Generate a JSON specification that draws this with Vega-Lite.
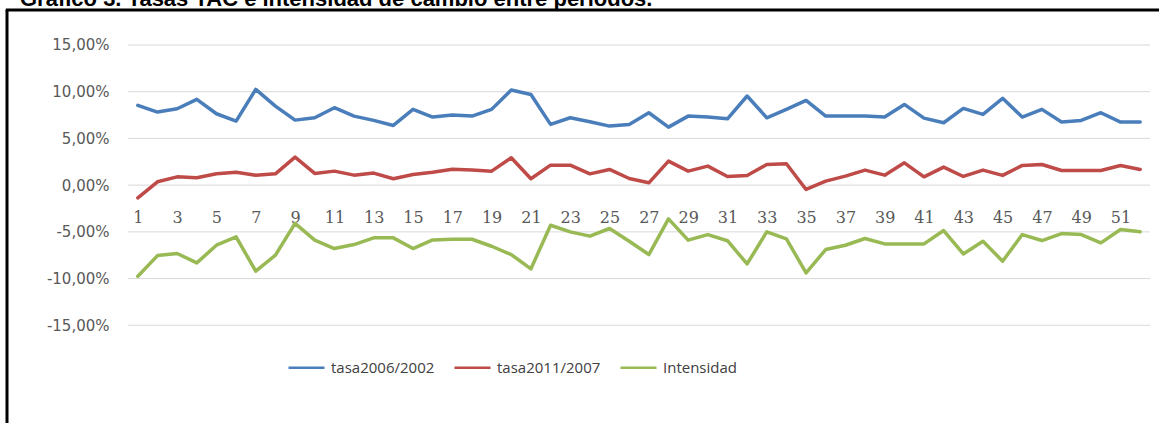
{
  "$schema": "https://vega.github.io/schema/vega-lite/v6.json",
  "autosize": "none",
  "padding": {"left": 7, "top": 10, "right": 0, "bottom": 0},
  "width": 1152,
  "height": 413,
  "background": "#ffffff",
  "title": {
    "text": "Gráfico 3. Tasas TAC e intensidad de cambio entre periodos.",
    "anchor": "start",
    "frame": "group",
    "dx": 13,
    "offset": -19,
    "baseline": "alphabetic",
    "font": "Liberation Sans",
    "fontSize": 22,
    "fontWeight": "bold",
    "color": "#000000"
  },
  "config": {
    "view": {"stroke": null}
  },
  "layer": [
    {
      "data": {"values": [{"g": -15}, {"g": -10}, {"g": -5}, {"g": 0}, {"g": 5}, {"g": 10}, {"g": 15}]},
      "mark": {"type": "rule", "color": "#d9d9d9", "strokeWidth": 1},
      "encoding": {
        "y": {
          "field": "g", "type": "quantitative",
          "scale": {"domain": [-25.458, 18.746], "nice": false, "zero": false},
          "axis": {
            "orient": "left", "offset": -105, "title": null, "domain": false, "ticks": false, "grid": false,
            "values": [-15, -10, -5, 0, 5, 10, 15],
            "labelExpr": "(datum.value < 0 ? '-' : '') + replace(format(abs(datum.value), '.2f'), '.', ',') + '%'",
            "labelFont": "DejaVu Sans", "labelFontSize": 15, "labelColor": "#595959", "labelPadding": 3
          }
        },
        "x": {
          "datum": 0.5, "type": "quantitative",
          "scale": {"domain": [-5.657, 52.957], "nice": false, "zero": false},
          "axis": {
            "orient": "bottom", "offset": -215, "title": null, "domain": false, "ticks": false, "grid": false,
            "values": [1, 3, 5, 7, 9, 11, 13, 15, 17, 19, 21, 23, 25, 27, 29, 31, 33, 35, 37, 39, 41, 43, 45, 47, 49, 51],
            "labelFont": "DejaVu Serif", "labelFontSize": 16, "labelColor": "#595959", "labelPadding": 1, "labelBaseline": "top", "labelFlush": false
          }
        },
        "x2": {"datum": 52.5}
      }
    },
    {
      "data": {"values": [{"b": 1}]},
      "mark": {"type": "rule", "color": "#000000", "strokeWidth": 3},
      "encoding": {
        "x": {"datum": -5.657, "type": "quantitative"},
        "y": {"datum": 18.746, "type": "quantitative"},
        "y2": {"datum": -25.458}
      }
    },
    {
      "data": {"values": [{"b": 1}]},
      "mark": {"type": "rule", "color": "#000000", "strokeWidth": 3},
      "encoding": {
        "y": {"datum": 18.746, "type": "quantitative"},
        "x": {"datum": -5.72, "type": "quantitative"},
        "x2": {"datum": 52.957}
      }
    },
    {
      "data": {"values": [
        {"n": 1, "tasa2006/2002": 8.54, "tasa2011/2007": -1.36, "Intensidad": -9.75},
        {"n": 2, "tasa2006/2002": 7.82, "tasa2011/2007": 0.36, "Intensidad": -7.54},
        {"n": 3, "tasa2006/2002": 8.18, "tasa2011/2007": 0.89, "Intensidad": -7.32},
        {"n": 4, "tasa2006/2002": 9.18, "tasa2011/2007": 0.79, "Intensidad": -8.32},
        {"n": 5, "tasa2006/2002": 7.64, "tasa2011/2007": 1.21, "Intensidad": -6.43},
        {"n": 6, "tasa2006/2002": 6.86, "tasa2011/2007": 1.39, "Intensidad": -5.54},
        {"n": 7, "tasa2006/2002": 10.25, "tasa2011/2007": 1.07, "Intensidad": -9.21},
        {"n": 8, "tasa2006/2002": 8.46, "tasa2011/2007": 1.21, "Intensidad": -7.5},
        {"n": 9, "tasa2006/2002": 6.96, "tasa2011/2007": 3.0, "Intensidad": -4.1},
        {"n": 10, "tasa2006/2002": 7.21, "tasa2011/2007": 1.25, "Intensidad": -5.89},
        {"n": 11, "tasa2006/2002": 8.29, "tasa2011/2007": 1.5, "Intensidad": -6.79},
        {"n": 12, "tasa2006/2002": 7.39, "tasa2011/2007": 1.07, "Intensidad": -6.36},
        {"n": 13, "tasa2006/2002": 6.93, "tasa2011/2007": 1.29, "Intensidad": -5.64},
        {"n": 14, "tasa2006/2002": 6.39, "tasa2011/2007": 0.68, "Intensidad": -5.64},
        {"n": 15, "tasa2006/2002": 8.11, "tasa2011/2007": 1.14, "Intensidad": -6.79},
        {"n": 16, "tasa2006/2002": 7.29, "tasa2011/2007": 1.39, "Intensidad": -5.86},
        {"n": 17, "tasa2006/2002": 7.5, "tasa2011/2007": 1.71, "Intensidad": -5.79},
        {"n": 18, "tasa2006/2002": 7.39, "tasa2011/2007": 1.61, "Intensidad": -5.79},
        {"n": 19, "tasa2006/2002": 8.11, "tasa2011/2007": 1.5, "Intensidad": -6.54},
        {"n": 20, "tasa2006/2002": 10.18, "tasa2011/2007": 2.93, "Intensidad": -7.43},
        {"n": 21, "tasa2006/2002": 9.71, "tasa2011/2007": 0.68, "Intensidad": -8.96},
        {"n": 22, "tasa2006/2002": 6.5, "tasa2011/2007": 2.14, "Intensidad": -4.29},
        {"n": 23, "tasa2006/2002": 7.21, "tasa2011/2007": 2.14, "Intensidad": -5.0},
        {"n": 24, "tasa2006/2002": 6.79, "tasa2011/2007": 1.21, "Intensidad": -5.46},
        {"n": 25, "tasa2006/2002": 6.32, "tasa2011/2007": 1.68, "Intensidad": -4.64},
        {"n": 26, "tasa2006/2002": 6.5, "tasa2011/2007": 0.71, "Intensidad": -6.0},
        {"n": 27, "tasa2006/2002": 7.75, "tasa2011/2007": 0.25, "Intensidad": -7.43},
        {"n": 28, "tasa2006/2002": 6.21, "tasa2011/2007": 2.57, "Intensidad": -3.61},
        {"n": 29, "tasa2006/2002": 7.39, "tasa2011/2007": 1.5, "Intensidad": -5.89},
        {"n": 30, "tasa2006/2002": 7.29, "tasa2011/2007": 2.04, "Intensidad": -5.29},
        {"n": 31, "tasa2006/2002": 7.1, "tasa2011/2007": 0.93, "Intensidad": -5.95},
        {"n": 32, "tasa2006/2002": 9.54, "tasa2011/2007": 1.04, "Intensidad": -8.43},
        {"n": 33, "tasa2006/2002": 7.21, "tasa2011/2007": 2.21, "Intensidad": -5.0},
        {"n": 34, "tasa2006/2002": 8.11, "tasa2011/2007": 2.29, "Intensidad": -5.75},
        {"n": 35, "tasa2006/2002": 9.07, "tasa2011/2007": -0.46, "Intensidad": -9.39},
        {"n": 36, "tasa2006/2002": 7.39, "tasa2011/2007": 0.43, "Intensidad": -6.89},
        {"n": 37, "tasa2006/2002": 7.39, "tasa2011/2007": 0.96, "Intensidad": -6.43},
        {"n": 38, "tasa2006/2002": 7.39, "tasa2011/2007": 1.61, "Intensidad": -5.71},
        {"n": 39, "tasa2006/2002": 7.29, "tasa2011/2007": 1.07, "Intensidad": -6.29},
        {"n": 40, "tasa2006/2002": 8.64, "tasa2011/2007": 2.39, "Intensidad": -6.29},
        {"n": 41, "tasa2006/2002": 7.17, "tasa2011/2007": 0.89, "Intensidad": -6.29},
        {"n": 42, "tasa2006/2002": 6.68, "tasa2011/2007": 1.93, "Intensidad": -4.86},
        {"n": 43, "tasa2006/2002": 8.21, "tasa2011/2007": 0.93, "Intensidad": -7.36},
        {"n": 44, "tasa2006/2002": 7.57, "tasa2011/2007": 1.61, "Intensidad": -6.0},
        {"n": 45, "tasa2006/2002": 9.29, "tasa2011/2007": 1.04, "Intensidad": -8.14},
        {"n": 46, "tasa2006/2002": 7.29, "tasa2011/2007": 2.11, "Intensidad": -5.29},
        {"n": 47, "tasa2006/2002": 8.11, "tasa2011/2007": 2.21, "Intensidad": -5.93},
        {"n": 48, "tasa2006/2002": 6.75, "tasa2011/2007": 1.57, "Intensidad": -5.18},
        {"n": 49, "tasa2006/2002": 6.93, "tasa2011/2007": 1.57, "Intensidad": -5.29},
        {"n": 50, "tasa2006/2002": 7.75, "tasa2011/2007": 1.57, "Intensidad": -6.18},
        {"n": 51, "tasa2006/2002": 6.75, "tasa2011/2007": 2.11, "Intensidad": -4.75},
        {"n": 52, "tasa2006/2002": 6.75, "tasa2011/2007": 1.68, "Intensidad": -5.0}
      ]},
      "transform": [{"fold": ["tasa2006/2002", "tasa2011/2007", "Intensidad"], "as": ["serie", "valor"]}],
      "mark": {"type": "line", "strokeWidth": 3.5, "strokeJoin": "round", "strokeCap": "round"},
      "encoding": {
        "x": {
          "field": "n", "type": "quantitative",
          "scale": {"domain": [-5.657, 52.957], "nice": false, "zero": false},
          "axis": {
            "orient": "bottom", "offset": -215, "title": null, "domain": false, "ticks": false, "grid": false,
            "values": [1, 3, 5, 7, 9, 11, 13, 15, 17, 19, 21, 23, 25, 27, 29, 31, 33, 35, 37, 39, 41, 43, 45, 47, 49, 51],
            "labelFont": "DejaVu Serif", "labelFontSize": 16, "labelColor": "#595959", "labelPadding": 1, "labelBaseline": "top", "labelFlush": false
          }
        },
        "y": {
          "field": "valor", "type": "quantitative",
          "scale": {"domain": [-25.458, 18.746], "nice": false, "zero": false},
          "axis": {
            "orient": "left", "offset": -105, "title": null, "domain": false, "ticks": false, "grid": false,
            "values": [-15, -10, -5, 0, 5, 10, 15],
            "labelExpr": "(datum.value < 0 ? '-' : '') + replace(format(abs(datum.value), '.2f'), '.', ',') + '%'",
            "labelFont": "DejaVu Sans", "labelFontSize": 15, "labelColor": "#595959", "labelPadding": 3
          }
        },
        "color": {
          "field": "serie", "type": "nominal",
          "scale": {"domain": ["tasa2006/2002", "tasa2011/2007", "Intensidad"], "range": ["#4a7ebb", "#be4b48", "#98b954"]},
          "legend": {
            "orient": "none", "legendX": 280, "legendY": 338, "direction": "horizontal", "title": null,
            "symbolType": "stroke", "symbolSize": 1296, "symbolStrokeWidth": 2.5,
            "labelFont": "Open Sans", "labelFontSize": 15, "labelColor": "#404040",
            "columnPadding": 14, "labelOffset": 5, "padding": 0
          }
        },
        "order": {"field": "n", "type": "quantitative"}
      }
    }
  ]
}
